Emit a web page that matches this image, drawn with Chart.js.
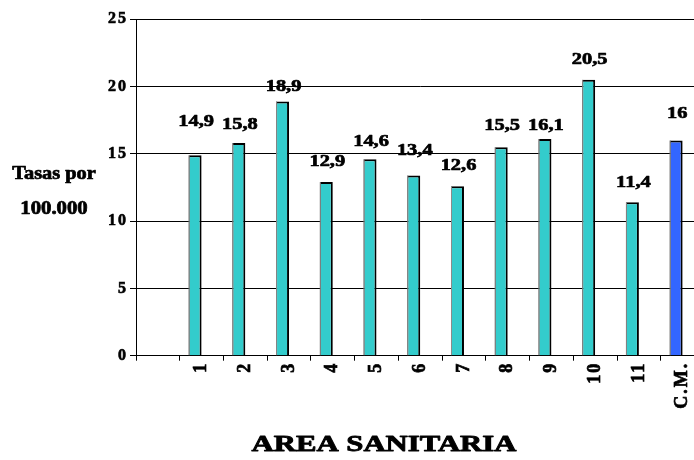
<!DOCTYPE html>
<html>
<head>
<meta charset="utf-8">
<script src="https://cdn.jsdelivr.net/npm/chart.js@4/dist/chart.umd.min.js"></script>
<style>
  html, body { margin: 0; padding: 0; background: #fff; overflow: hidden; }
  #wrap { width: 720px; height: 460px; }
</style>
</head>
<body>
<div id="wrap"><canvas id="c" width="720" height="460"></canvas></div>
<script>
// Áreas sanitarias (the first slot is left empty) and their rates per 100.000
const areas = ['', '1', '2', '3', '4', '5', '6', '7', '8', '9', '10', '11', 'C.M.'];
const tasas = [null, 14.9, 15.8, 18.9, 12.9, 14.6, 13.4, 12.6, 15.5, 16.1, 20.5, 11.4, 16];
const yTicks = [0, 5, 10, 15, 20, 25];
const yTitle = ['Tasas por', '100.000'];
const xTitle = 'AREA SANITARIA';

const TEAL = '#33CCCC';
const BLUE = '#3366FF';
const SERIF = "'Liberation Serif', 'Times New Roman', Times, serif";

function fmt(v) { return String(v).replace('.', ','); }

// Heavy serif lettering, widened horizontally
function wideText(ctx, text, x, y, size, sx, weight) {
  ctx.save();
  ctx.font = 'bold ' + size + 'px ' + SERIF;
  ctx.fillStyle = '#000';
  ctx.strokeStyle = '#000';
  ctx.lineWidth = weight;
  ctx.lineJoin = 'round';
  ctx.textAlign = 'center';
  ctx.textBaseline = 'alphabetic';
  ctx.translate(x, y);
  ctx.scale(sx, 1);
  ctx.fillText(text, 0, 0);
  ctx.strokeText(text, 0, 0);
  ctx.restore();
}

const decor = {
  id: 'decor',
  beforeDraw(chart) {
    chart.ctx.letterSpacing = '2px';
  },
  beforeDatasetsDraw(chart) {
    chart.ctx.letterSpacing = '0px';
  },
  afterDatasetsDraw(chart, args, opts) {
    const ctx = chart.ctx;
    const meta = chart.getDatasetMeta(0);
    meta.data.forEach((bar, i) => {
      const v = tasas[i];
      if (v === null || v === undefined) return;
      const p = bar.getProps(['x', 'y', 'base', 'width'], true);
      // lighter left edge of each column
      ctx.save();
      ctx.fillStyle = '#8c8c8c';
      ctx.fillRect(p.x - p.width / 2, p.y, 1, p.base - p.y);
      ctx.restore();
      // value label above the column
      wideText(ctx, fmt(v), p.x + 1, p.y - opts.gaps[i], 17, 1.2, 0.7);
    });
  },
  afterDraw(chart) {
    const ctx = chart.ctx;
    ctx.letterSpacing = '0px';
    wideText(ctx, yTitle[0], 54, 179, 18, 1.13, 0.7);
    wideText(ctx, yTitle[1], 54, 214, 18, 1.15, 0.7);
    wideText(ctx, xTitle, 384, 451, 24, 1.28, 0.9);
  }
};

function build() {
  new Chart(document.getElementById('c'), {
    type: 'bar',
    data: {
      labels: areas,
      datasets: [
        {
          data: tasas,
          backgroundColor: ctx => areas[ctx.dataIndex] === 'C.M.' ? BLUE : TEAL,
          borderColor: '#000',
          borderWidth: { top: 2, right: 2, left: 1, bottom: 0 },
          borderSkipped: 'start',
          categoryPercentage: 0.594,
          barPercentage: 1.0
        },
        {
          // second, empty series slot beside each column
          data: areas.map(() => null),
          categoryPercentage: 0.594,
          barPercentage: 1.0
        }
      ]
    },
    options: {
      responsive: false,
      animation: false,
      events: [],
      layout: { padding: { left: 0, right: 15.5, top: 19.3, bottom: 0 } },
      plugins: {
        legend: { display: false },
        tooltip: { enabled: false },
        decor: { gaps: [0, 29, 14, 10, 16, 13, 20, 16, 17, 9, 15.5, 15, 22] }
      },
      scales: {
        x: {
          offset: true,
          grid: {
            offset: true,
            drawOnChartArea: false,
            drawTicks: true,
            tickLength: 5,
            color: '#000',
            lineWidth: 1
          },
          border: { display: true, color: '#000', width: 1 },
          ticks: {
            autoSkip: false,
            minRotation: 90,
            maxRotation: 90,
            padding: 1,
            color: '#000',
            textStrokeColor: '#000',
            textStrokeWidth: 0.7,
            font: { family: SERIF, size: 18, weight: 'bold' }
          },
          afterFit: s => { s.height = 104.3; }
        },
        y: {
          min: 0,
          max: 25,
          afterBuildTicks: s => { s.ticks = yTicks.map(v => ({ value: v })); },
          grid: {
            color: '#000',
            lineWidth: 1,
            drawTicks: true,
            tickLength: 6
          },
          border: { display: true, color: '#000', width: 1 },
          ticks: {
            padding: 2,
            color: '#000',
            textStrokeColor: '#000',
            textStrokeWidth: 0.6,
            font: { family: SERIF, size: 16, weight: 'bold' }
          },
          afterFit: s => { s.width = 136; }
        }
      }
    },
    plugins: [decor]
  });
}

const fontReady = document.fonts && document.fonts.load
  ? Promise.all([
      document.fonts.load("bold 17px 'Liberation Serif'"),
      document.fonts.load("bold 24px 'Liberation Serif'")
    ]).catch(() => null)
  : Promise.resolve();
fontReady.then(build, build);
</script>
</body>
</html>
